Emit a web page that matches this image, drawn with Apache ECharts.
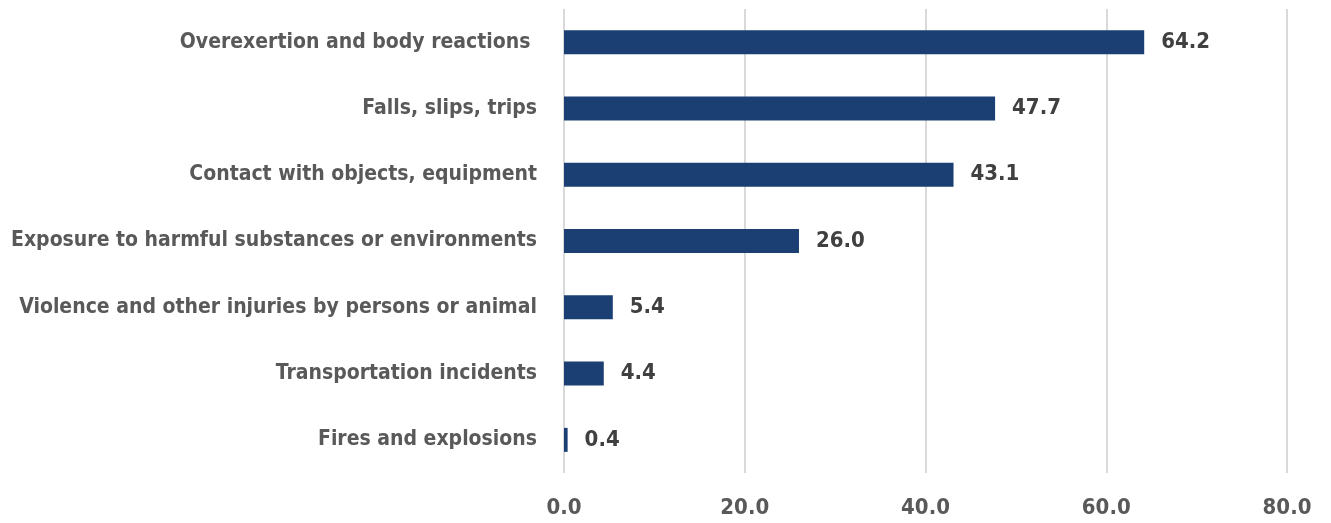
<!DOCTYPE html>
<html><head><meta charset="utf-8">
<script src="https://cdn.jsdelivr.net/npm/echarts@6/dist/echarts.min.js"></script>
<style>html,body{margin:0;padding:0;background:#fff}#c{width:1331px;height:523px}</style>
</head><body><div id="c"></div>
<script>
const categories = [
  "Overexertion and body reactions ",
  "Falls, slips, trips",
  "Contact with objects, equipment",
  "Exposure to harmful substances or environments",
  "Violence and other injuries by persons or animal",
  "Transportation incidents",
  "Fires and explosions"
];
const values = [64.2, 47.7, 43.1, 26.0, 5.4, 4.4, 0.4];
const xTicks = [0, 20, 40, 60, 80];

const FONT = "'Liberation Sans Narrow', 'DejaVu Sans Condensed', 'Roboto Condensed', sans-serif";
const chart = echarts.init(document.getElementById('c'), null, {renderer: 'canvas'});
chart.setOption({
  animation: false,
  grid: {left: 564, right: 44, top: 9, bottom: 50, containLabel: false, outerBoundsMode: 'none'},
  xAxis: {
    type: 'value', min: xTicks[0], max: xTicks[xTicks.length - 1], interval: 20,
    axisLine: {show: false}, axisTick: {show: false},
    splitLine: {show: true, lineStyle: {color: '#d9d9d9', width: 2}},
    axisLabel: {formatter: v => v.toFixed(1), color: '#595959', fontFamily: FONT, fontSize: 22, fontWeight: 'bold', margin: 24}
  },
  yAxis: {
    type: 'category', data: categories, inverse: true,
    axisLine: {show: false}, axisTick: {show: false},
    axisLabel: {color: '#595959', fontFamily: FONT, fontSize: 21, fontWeight: 'bold', margin: 27}
  },
  series: [{
    type: 'bar', data: values, barWidth: 24,
    itemStyle: {color: '#1b3f73'},
    label: {show: true, position: 'right', distance: 17, formatter: p => p.value.toFixed(1),
      color: '#404040', fontFamily: FONT, fontSize: 22, fontWeight: 'bold'}
  }]
});
</script></body></html>
